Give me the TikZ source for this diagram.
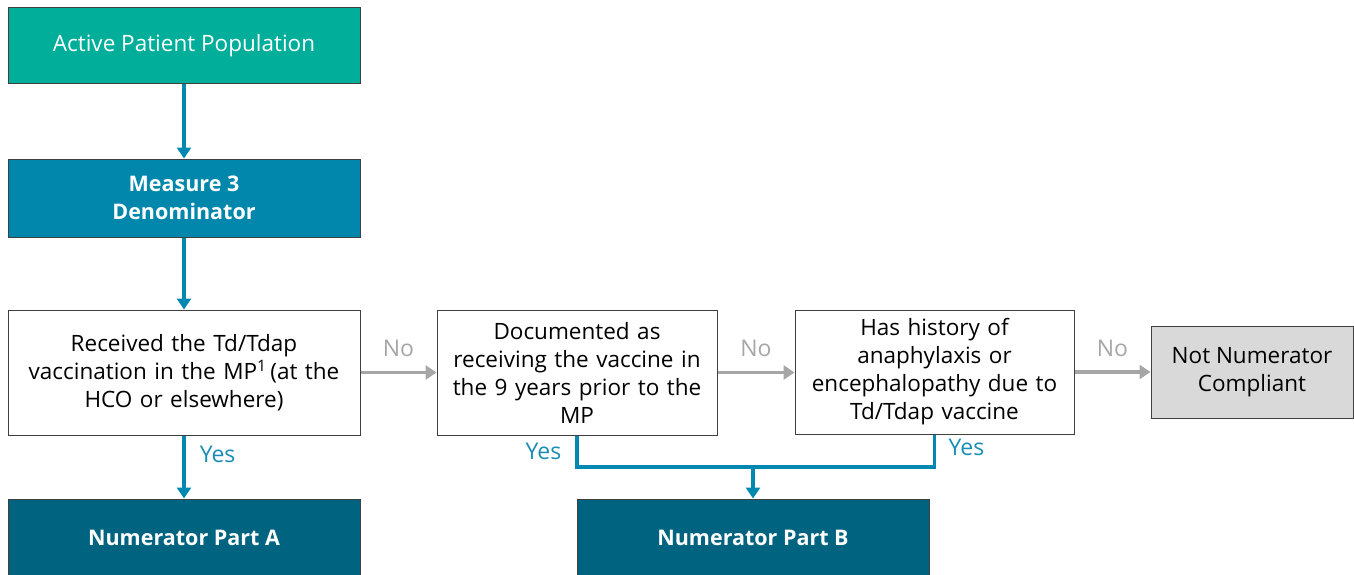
\documentclass[tikz,border=0pt]{standalone}
\usepackage{fontspec}
\setmainfont{Open Sans}
\usetikzlibrary{arrows.meta}
\definecolor{cteal}{HTML}{00AE9A}
\definecolor{cmeas}{HTML}{0087AB}
\definecolor{cnum}{HTML}{00637F}
\definecolor{cgfill}{HTML}{D9D9D9}
\definecolor{cgarrow}{HTML}{A6A6A6}
\definecolor{cblue}{HTML}{0088B0}
\definecolor{cyes}{HTML}{1A8DB5}
\definecolor{cedge}{HTML}{3F3F3F}
\tikzset{
  box/.style={draw=cedge, line width=1pt, inner sep=0pt, align=center,
    font=\fontsize{22.5}{28}\selectfont, text=black},
  whitebox/.style={box, fill=white},
  tealbox/.style={box, fill=cteal, text=white},
  measbox/.style={box, fill=cmeas, text=white, font=\fontsize{21.5}{28}\selectfont\bfseries},
  numbox/.style={box, fill=cnum, text=white, font=\fontsize{21.5}{28}\selectfont\bfseries},
  greybox/.style={box, fill=cgfill},
  bluearrow/.style={draw=cblue, line width=3.5pt, -{Triangle[width=14pt,length=11pt]}},
  blueline/.style={draw=cblue, line width=3.5pt},
  grayarrow/.style={draw=cgarrow, line width=3.5pt, -{Triangle[width=14pt,length=11pt]}},
  yeslbl/.style={text=cyes, font=\fontsize{23}{26}\selectfont, inner sep=4pt},
  nolbl/.style={text=cgarrow, font=\fontsize{23}{26}\selectfont, inner sep=4pt},
}
\begin{document}
\begin{tikzpicture}[x=1pt,y=-1pt]
\useasboundingbox (0,0) rectangle (1354,575);
\node[tealbox, minimum width=352pt, minimum height=76pt] (A) at (184,46) {Active Patient Population};
\node[measbox, minimum width=352pt, minimum height=78pt] (M) at (184,198) {Measure 3\\Denominator};
\node[whitebox, minimum width=352pt, minimum height=125pt, text width=340pt] (R) at (184,372.5)
  {Received the Td/Tdap\\vaccination in the MP\textsuperscript{1}\,(at the\\HCO or elsewhere)};
\node[whitebox, minimum width=280pt, minimum height=125pt, text width=272pt] (D) at (577,372.5)
  {Documented as\\receiving the vaccine in\\the 9 years prior to the\\MP};
\node[whitebox, minimum width=279pt, minimum height=124pt, text width=272pt] (H) at (934.5,372)
  {Has history of\\anaphylaxis or\\encephalopathy due to\\Td/Tdap vaccine};
\node[greybox, minimum width=202pt, minimum height=92pt] (N) at (1252,372) {Not Numerator\\Compliant};
\node[numbox, minimum width=352pt, minimum height=78pt] (PA) at (184,538) {Numerator Part A};
\node[numbox, minimum width=352pt, minimum height=78pt] (PB) at (753,538) {Numerator Part B};
\coordinate (jn) at (753,467);
\draw[bluearrow] (A) -- (M);
\draw[bluearrow] (M) -- (R);
\draw[bluearrow] (R) -- node[yeslbl, right=10pt, pos=0.3] {Yes} (PA);
\draw[grayarrow] (R.east) -- node[nolbl, above=10pt] {No} (R.east -| D.west);
\draw[grayarrow] (D.east) -- node[nolbl, above=10pt] {No} (D.east -| H.west);
\draw[grayarrow] (H.east) -- node[nolbl, above=10pt] {No} (H.east -| N.west);
\draw[blueline] (D.south) -- node[yeslbl, left=10pt] {Yes} (D.south |- jn) -| (H.south);
\path (H.south) -- node[yeslbl, right=10pt, pos=0.4] {Yes} (H.south |- jn);
\draw[bluearrow] (jn) -- (PB.north);
\end{tikzpicture}
\end{document}
